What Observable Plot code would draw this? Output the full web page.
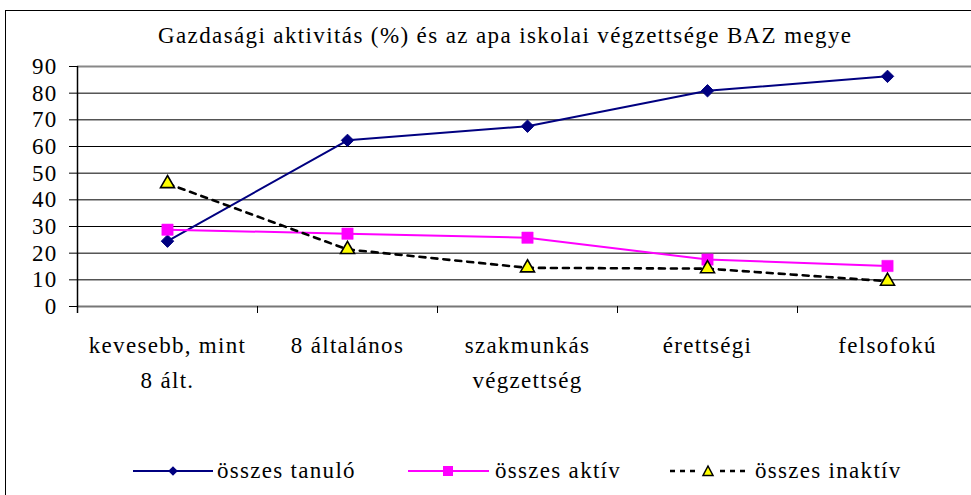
<!DOCTYPE html>
<html><head><meta charset="utf-8">
<script src="https://cdn.jsdelivr.net/npm/d3@7"></script>
<script src="https://cdn.jsdelivr.net/npm/@observablehq/plot@0.6"></script>
<style>
body{margin:0;width:971px;height:495px;overflow:hidden;background:#fff;position:relative;font-family:'Liberation Serif';}
#frame{position:absolute;left:5px;top:10px;width:1100px;height:600px;border:1px solid #000;box-sizing:border-box}
#title{position:absolute;left:0;top:0}
#chart{position:absolute;left:0;top:56px;width:1000px}
#legend{position:absolute;left:0;top:450px}
</style></head><body>
<div id="frame"></div>
<div id="title"></div><div id="chart"></div><div id="legend"></div>
<script>
const title = "Gazdasági aktivitás (%) és az apa iskolai végzettsége BAZ megye";
const categories = ["kevesebb, mint\n8 ált.", "8 általános", "szakmunkás\nvégzettség", "érettségi", "felsofokú"];
const seriesNames = ["összes tanuló", "összes aktív", "összes inaktív"];
const tanulo = [24.5, 62.3, 67.6, 80.9, 86.3];
const aktiv = [28.8, 27.3, 25.8, 17.6, 15.2];
const inaktiv = [46.1, 21.4, 14.5, 14.2, 9.5];
const yTicks = [0, 10, 20, 30, 40, 50, 60, 70, 80, 90];

const NAVY = "#000080", MAGENTA = "#FF00FF", BLACK = "#000000", YELLOW = "#FFFF00";
const FONT = "Liberation Serif";
const LS = "1.3px";

const rows = vals => vals.map((v, i) => ({x: i + 0.5, y: v}));
const T = rows(tanulo), A = rows(aktiv), I = rows(inaktiv);

const yMax = yTicks[yTicks.length - 1];
const plotH = 240; // inner plot height in px
const below = -7 * yMax / plotH; // value 7px under the x axis (tick length)

const chart = Plot.plot({
  width: 985, height: 340,
  marginLeft: 77, marginRight: 8, marginTop: 10, marginBottom: 90,
  style: {fontFamily: FONT, fontSize: "23px", color: "#000", background: "transparent", overflow: "visible", letterSpacing: LS, maxWidth: "none"},
  x: {domain: [0, categories.length], axis: null},
  y: {domain: [0, yMax], ticks: yTicks, tickSize: 8, tickPadding: 12, label: null},
  marks: [
    Plot.ruleY(yTicks.filter(t => t > 0 && t < yMax), {stroke: "#000", strokeWidth: 1}),
    Plot.ruleY([yMax], {stroke: "#888", strokeWidth: 2}),
    Plot.ruleY([0], {stroke: "#777", strokeWidth: 2}),
    Plot.ruleX([0], {y1: yMax, y2: below, stroke: "#000", strokeWidth: 1.5}),
    Plot.ruleX(d3.range(1, categories.length), {y1: 0, y2: below, stroke: "#000", strokeWidth: 1}),
    Plot.text(categories, {x: (d, i) => i + 0.5, y: 0, text: d => d, dy: 22, lineAnchor: "top", lineHeight: 1.52, fontSize: 23, fontFamily: FONT, fill: "#000"}),
    Plot.line(T, {x: "x", y: "y", stroke: NAVY, strokeWidth: 2}),
    Plot.dot(T, {x: "x", y: "y", symbol: "diamond2", r: 5.6, fill: NAVY, stroke: NAVY, strokeWidth: 1}),
    Plot.line(A, {x: "x", y: "y", stroke: MAGENTA, strokeWidth: 2}),
    Plot.dot(A, {x: "x", y: "y", symbol: "square", r: 6.4, fill: MAGENTA, stroke: MAGENTA, strokeWidth: 0.5}),
    Plot.line(I, {x: "x", y: "y", stroke: BLACK, strokeWidth: 2.6, strokeDasharray: "6,6"}),
    Plot.dot(I, {x: "x", y: "y", symbol: "triangle", r: 5.2, fill: YELLOW, stroke: BLACK, strokeWidth: 1.6})
  ]
});
document.getElementById("chart").appendChild(chart);

// title
const ts = d3.select("#title").append("svg").attr("width", 971).attr("height", 56);
ts.append("text").attr("x", 504.5).attr("y", 43).attr("text-anchor", "middle")
  .attr("font-family", FONT).attr("font-size", 23).attr("textLength", 693)
  .text(title);

// legend
const layout = [{x1: 133, x2: 213, mx: 173, tx: 217}, {x1: 408, x2: 489, mx: 448, tx: 495}, {x1: 670, x2: 750, mx: 708, tx: 755}];
const lg = d3.select("#legend").append("svg").attr("width", 971).attr("height", 45);
const ly = 21;
const styles = [
  {stroke: NAVY, w: 2, dash: null},
  {stroke: MAGENTA, w: 2, dash: null},
  {stroke: BLACK, w: 2.6, dash: "5,5"}
];
seriesNames.forEach((name, k) => {
  const L = layout[k], s = styles[k];
  const ln = lg.append("line").attr("x1", L.x1).attr("x2", L.x2).attr("y1", ly).attr("y2", ly)
    .attr("stroke", s.stroke).attr("stroke-width", s.w);
  if (s.dash) ln.attr("stroke-dasharray", s.dash);
  if (k === 0) {
    const h = 4.8;
    lg.append("path").attr("d", `M${L.mx},${ly - h}L${L.mx + h},${ly}L${L.mx},${ly + h}L${L.mx - h},${ly}Z`).attr("fill", NAVY);
  } else if (k === 1) {
    lg.append("rect").attr("x", L.mx - 5).attr("y", ly - 5).attr("width", 10).attr("height", 10).attr("fill", MAGENTA);
  } else {
    lg.append("rect").attr("x", L.mx - 8).attr("y", ly - 7).attr("width", 16).attr("height", 14).attr("fill", "#fff");
    lg.append("path").attr("d", `M${L.mx},${ly - 5}L${L.mx + 5},${ly + 4.5}L${L.mx - 5},${ly + 4.5}Z`)
      .attr("fill", YELLOW).attr("stroke", BLACK).attr("stroke-width", 1.5);
  }
  lg.append("text").attr("x", L.tx).attr("y", 28).attr("font-family", FONT).attr("font-size", 23)
    .attr("letter-spacing", LS).text(name);
});
</script>
</body></html>
